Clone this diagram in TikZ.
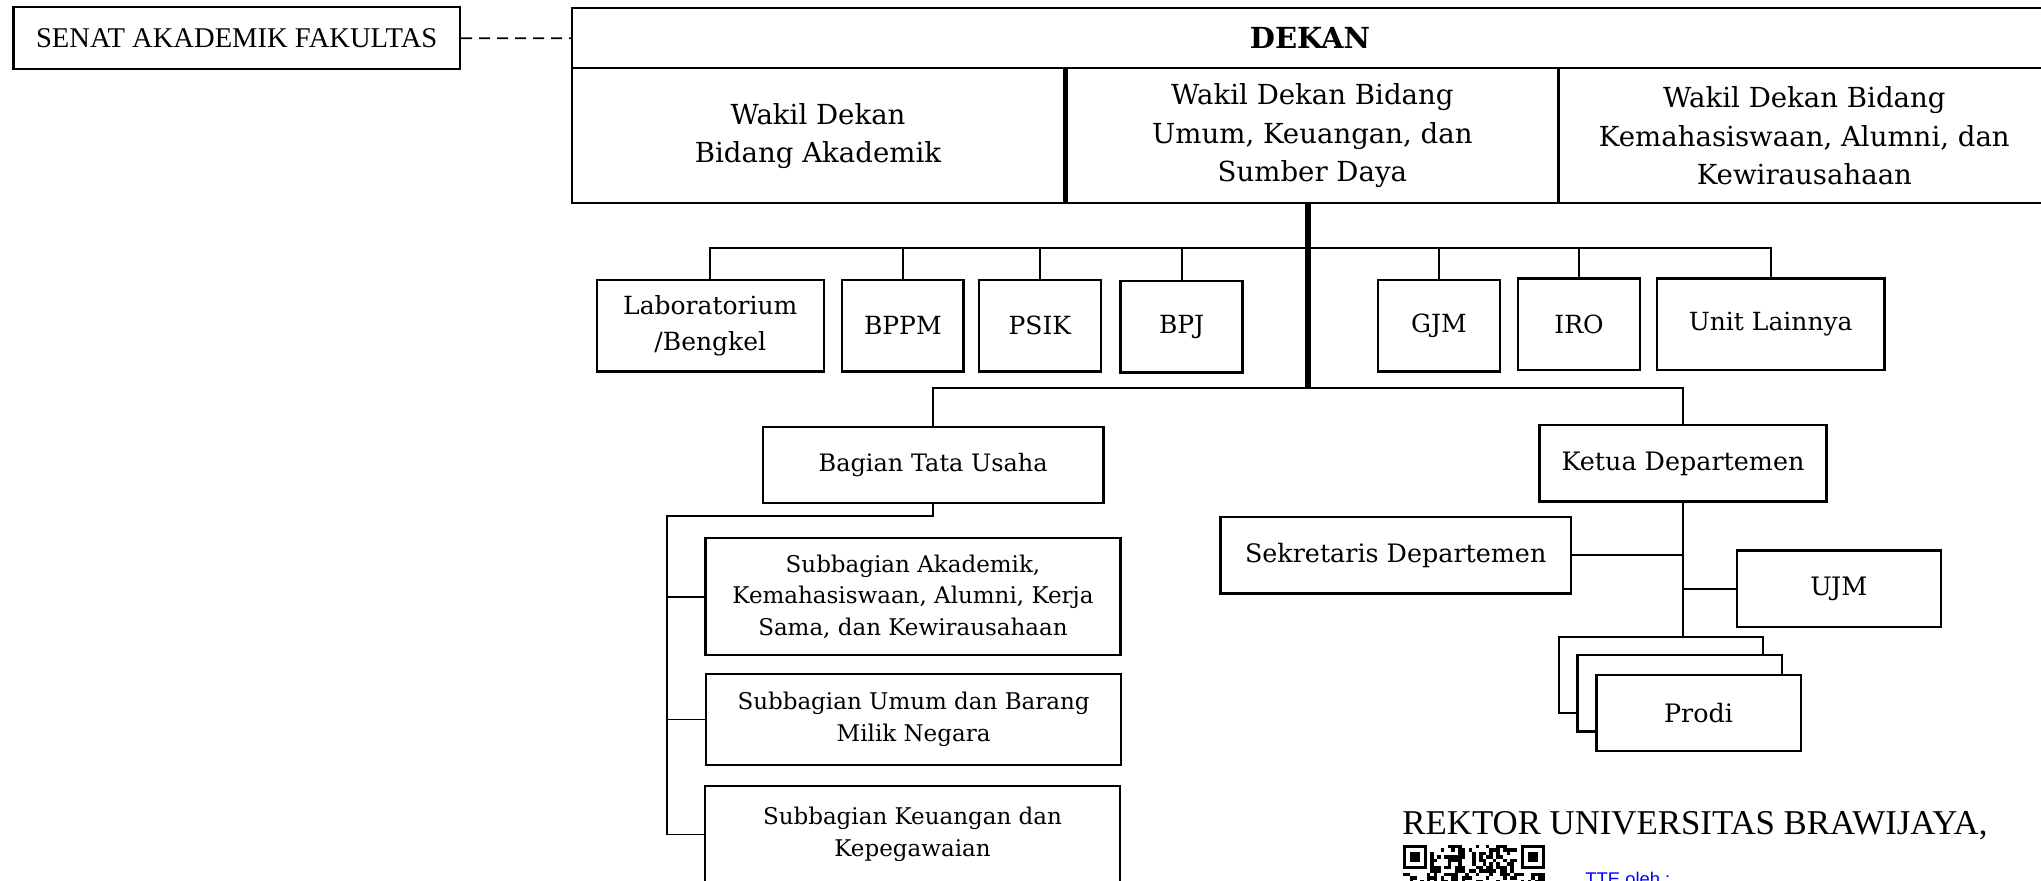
\documentclass[tikz,border=0pt]{standalone}
\usepackage{fontspec}
\setmainfont{DejaVu Serif}
\newfontfamily\timesfont{Liberation Serif}
\newfontfamily\arialfont{Liberation Sans}
\usetikzlibrary{positioning}
\definecolor{ttblue}{RGB}{0,0,255}

\begin{document}
\begin{tikzpicture}[
  x=0.5pt, y=-0.5pt,
  box/.style={rectangle, draw=black, line width=1.2pt, fill=white, align=center, inner sep=2pt},
  wakil/.style={box, minimum width=246pt, minimum height=67.5pt, font=\fontsize{13.8}{19.2}\selectfont},
  unit/.style={box, minimum height=45.9pt, font=\fontsize{12.5}{18}\selectfont},
  dept/.style={box, minimum height=38.2pt, font=\fontsize{12.7}{15}\selectfont},
  sub/.style={box, minimum width=207.5pt, font=\fontsize{11.5}{15.8}\selectfont},
  link/.style={line width=0.9pt},
  spine/.style={line width=3.4pt},
]
\useasboundingbox (0,0) rectangle (2041,881);
% pimpinan
\node[box, minimum width=223.3pt, minimum height=30.9pt, font=\timesfont\fontsize{14.3}{16}\selectfont] (senat) at (236.7,38.2) {SENAT AKADEMIK FAKULTAS};
\node[box, minimum width=738pt, minimum height=30pt, font=\bfseries\fontsize{14.5}{17}\selectfont] (dekan) at (1310,38.3) {DEKAN};
\node[wakil] (wk1) at (818,135.8) {Wakil Dekan\\Bidang Akademik};
\node[wakil, right=0pt of wk1] (wk2) {Wakil Dekan Bidang\\Umum, Keuangan, dan\\Sumber Daya};
\node[wakil, right=-1.2pt of wk2] (wk3) {Wakil Dekan Bidang\\Kemahasiswaan, Alumni, dan\\Kewirausahaan};
% unit pendukung
\node[unit, minimum width=113.5pt] (lab) at (710.3,325.8) {Laboratorium\\/Bengkel};
\node[unit, minimum width=60.8pt] (bppm) at (902.8,325.8) {BPPM};
\node[unit, minimum width=60.9pt] (psik) at (1039.9,325.8) {PSIK};
\node[unit, minimum width=61pt] (bpj) at (1181.6,326.8) {BPJ};
\node[unit, minimum width=61pt] (gjm) at (1439,325.8) {GJM};
\node[unit, minimum width=61pt] (iro) at (1579,324.3) {IRO};
\node[unit, minimum width=113.9pt] (lainnya) at (1770.7,324.3) {Unit Lainnya};
% tata usaha
\node[dept, minimum width=170.2pt, font=\fontsize{12}{15}\selectfont] (btu) at (933.2,465) {Bagian Tata Usaha};
\node[sub, minimum height=58.5pt] (sub1) at (913,596.8) {Subbagian Akademik,\\Kemahasiswaan, Alumni, Kerja\\Sama, dan Kewirausahaan};
\node[sub, minimum height=45.5pt] (sub2) at (913.6,719.5) {Subbagian Umum dan Barang\\Milik Negara};
\node[sub, minimum height=48.7pt] (sub3) at (912.5,834.4) {Subbagian Keuangan dan\\Kepegawaian};
% departemen
\node[dept, minimum width=143.5pt] (ketua) at (1683,463.5) {Ketua Departemen};
\node[dept, minimum width=175.3pt] (sek) at (1395.7,555.3) {Sekretaris Departemen};
\node[dept, minimum width=101.9pt] (ujm) at (1838.8,588.7) {UJM};
\node[dept, minimum width=102.2pt] (prodiA) at (1661,675) {};
\node[dept, minimum width=102.2pt] (prodiB) at ([shift={(18.5,18.5)}]prodiA) {};
\node[dept, minimum width=102.2pt] (prodiC) at ([shift={(19,19.5)}]prodiB) {Prodi};
% garis
\coordinate (busU) at (1308,248.3);
\coordinate (busL) at (1308,388.3);
\coordinate (subbus) at (667,516);
\draw[link, dash pattern=on 5.5pt off 3.5pt] (senat.east) -- (dekan.west);
\draw[spine] (wk2.south -| busU) -- (busL);
\draw[link] (lab.north) |- (busU) -| (lainnya.north);
\foreach \n in {bppm,psik,bpj,gjm,iro}
  \draw[link] (\n.north) -- (\n.north |- busU);
\draw[link] (btu.north) |- (busL) -| (ketua.north);
\draw[link] (btu.south) |- (subbus) |- (sub3.west);
\foreach \n in {sub1,sub2}
  \draw[link] (\n.west) -- (\n.west -| subbus);
\draw[link] (ketua.south) -- (ketua.south |- prodiA.north);
\draw[link] (sek.east) -- (sek.east -| ketua.south);
\draw[link] (ujm.west) -- (ujm.west -| ketua.south);
% pengesahan
\node[anchor=base west, inner sep=0pt, font=\timesfont\fontsize{17.4}{20}\selectfont] (rektor) at (1402,834.3) {REKTOR UNIVERSITAS BRAWIJAYA,};
\node[anchor=base west, inner sep=0pt, text=ttblue, font=\arialfont\fontsize{9.2}{11}\selectfont] (tte) at (1585,885) {TTE oleh :};
\begin{scope}[shift={(1402.7,845)}, x=1.735pt, y=-1.735pt]
  \pgfmathsetseed{4711}
  \foreach \qx in {0,34} {
    \fill (\qx,0) rectangle ++(7,7);
    \fill[white] (\qx+1,1) rectangle ++(5,5);
    \fill (\qx+2,2) rectangle ++(3,3);
  }
  \foreach \c in {0,...,40}
    \foreach \r in {0,...,11} {
      \pgfmathtruncatemacro\bit{and(rnd<0.5, or(\r>7, and(\c>7,\c<33)))}
      \ifnum\bit=1 \fill (\c,\r) rectangle ++(1,1); \fi
    }
\end{scope}
\end{tikzpicture}
\end{document}
